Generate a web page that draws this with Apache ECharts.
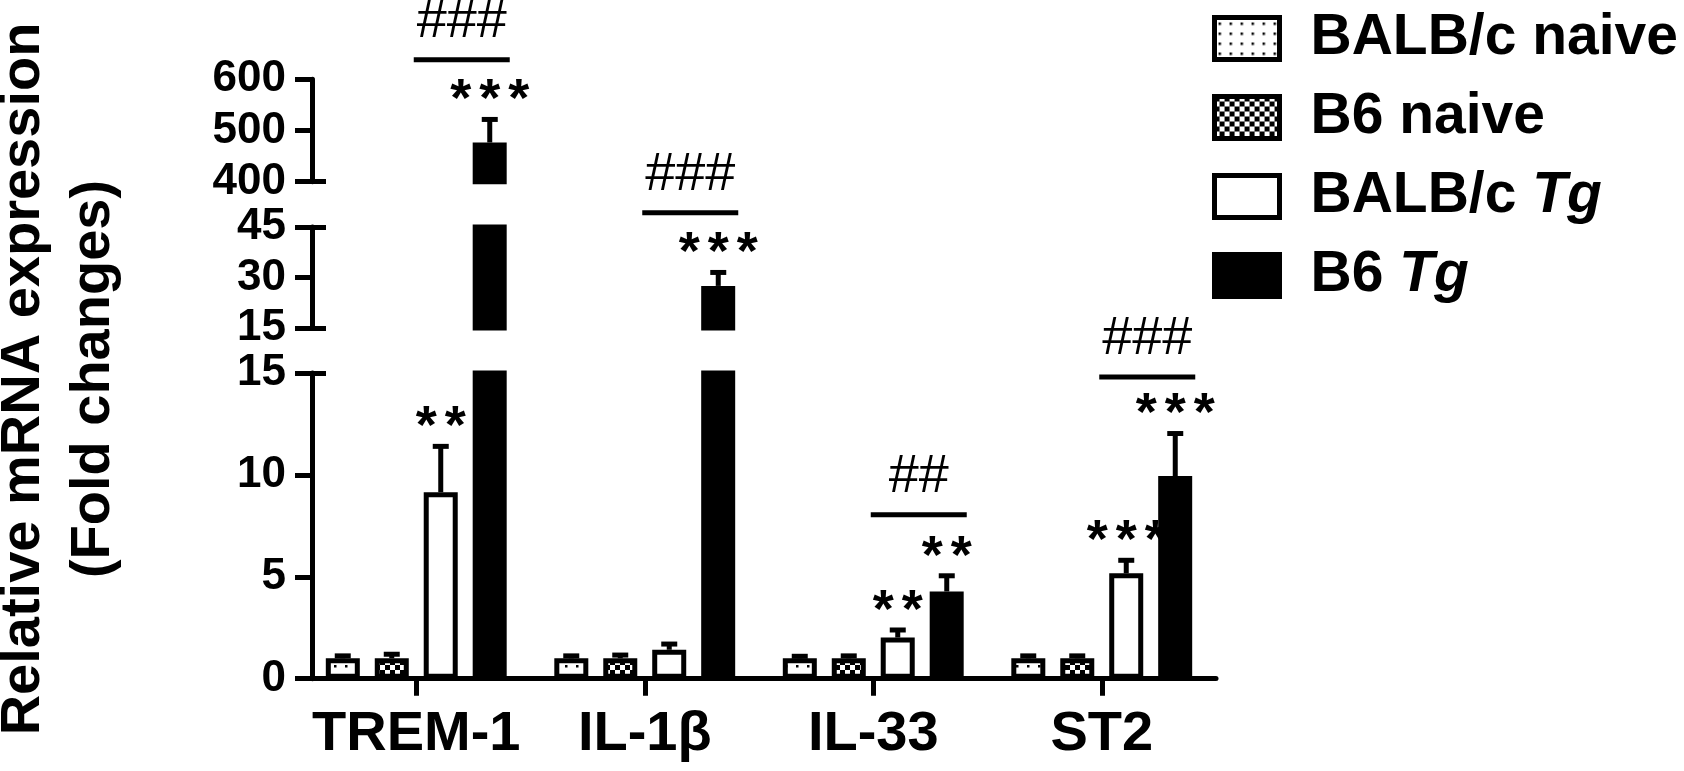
<!DOCTYPE html>
<html>
<head>
<meta charset="utf-8">
<title>Relative mRNA expression</title>
<script src="https://cdn.jsdelivr.net/npm/echarts@6/dist/echarts.min.js"></script>
<style>
  html, body { margin: 0; padding: 0; background: #fff; }
  #main { width: 1684px; height: 771px; }
</style>
</head>
<body>
<div id="main"></div>
<script>
// values
var genes = ['TREM-1', 'IL-1β', 'IL-33', 'ST2'];
var groups = ['BALB/c naive', 'B6 naive', 'BALB/c Tg', 'B6 Tg'];

var balbNaive   = [1.0, 1.0, 1.0, 1.0];
var balbNaiveSd = [0.12, 0.12, 0.1, 0.12];
var b6Naive     = [1.0, 1.0, 1.0, 1.0];
var b6NaiveSd   = [0.2, 0.16, 0.12, 0.12];
var balbTg      = [9.15, 1.42, 2.02, 5.17];
var balbTgSd    = [2.25, 0.28, 0.37, 0.64];
var b6Tg        = [476.6, 27.5, 4.28, 9.94];
var b6TgSd      = [45, 4.0, 0.77, 2.09];

var balbTgStars = ['**', '', '**', '***'];
var b6TgStars   = ['***', '***', '**', '***'];

// ### brackets between BALB/c Tg and B6 Tg (level in axis units)
var hashText  = ['###', '###', '##', '###'];
var hashLevel = [638, 49.2, 8.05, 14.8];

// broken y axis, segments from bottom to top
var segMin  = [0, 15, 400];
var segMax  = [15, 45, 600];
var segStep = [5, 15, 100];

var means = [balbNaive, b6Naive, balbTg, b6Tg];
var sds = [balbNaiveSd, b6NaiveSd, balbTgSd, b6TgSd];
var stars = [['', '', '', ''], ['', '', '', ''], balbTgStars, b6TgStars];

var FONT = '"Liberation Sans", Arial, sans-serif';
var BAR_W = 34;
var BAR_STEP = 49;
var STAR_GAP = 29;

// which segment a value belongs to
function segOf(v) {
	var s = 0;
	for (var i = 0; i < segMin.length; i++) {
		if (v >= segMin[i]) s = i;
	}
	return s;
}

function dotPattern() {
	var c = document.createElement('canvas');
	c.width = 11; c.height = 10;
	var g = c.getContext('2d');
	g.fillStyle = '#fff'; g.fillRect(0, 0, 11, 10);
	g.fillStyle = '#000'; g.fillRect(4, 5, 2.5, 2.5);
	return c;
}
function checkPattern() {
	var c = document.createElement('canvas');
	c.width = 10; c.height = 10;
	var g = c.getContext('2d');
	g.fillStyle = '#fff'; g.fillRect(0, 0, 10, 10);
	g.fillStyle = '#000';
	g.fillRect(0, 0, 5, 5);
	g.fillRect(5, 5, 5, 5);
	return c;
}
var fills = [
	{ image: dotPattern(), repeat: 'repeat' },
	{ image: checkPattern(), repeat: 'repeat' },
	'#fff',
	'#000'
];

// grid pixel layout of each segment
var gridTop = [373, 227, 79.3];
var gridH = [305.7, 101, 102.4];

var grids = [], xAxes = [], yAxes = [], brkAxes = [], series = [];

for (var s = 0; s < segMin.length; s++) {
	grids.push({ left: 302, width: 914, top: gridTop[s], height: gridH[s], outerBoundsMode: 'none' });

	xAxes.push({
		type: 'category', gridIndex: s, data: genes, show: s === 0,
		axisLine: { show: true, onZero: false, lineStyle: { color: '#000', width: 5 } },
		axisTick: { show: true, alignWithLabel: true, length: 17, lineStyle: { color: '#000', width: 5 } },
		axisLabel: { color: '#000', fontFamily: FONT, fontWeight: 'bold', fontSize: 56, margin: 28, interval: 0 },
		splitLine: { show: false }
	});

	yAxes.push({
		type: 'value', gridIndex: s, min: segMin[s], max: segMax[s], interval: segStep[s], offset: -10,
		axisLine: { show: true, lineStyle: { color: '#000', width: 5 } },
		axisTick: { show: true, length: 17, lineStyle: { color: '#000', width: 5 } },
		axisLabel: { color: '#000', fontFamily: FONT, fontWeight: 'bold', fontSize: 44, margin: 26 },
		splitLine: { show: false }
	});

	// short inner ticks marking the axis breaks
	var brk = [];
	if (s > 0) brk.push(segMin[s]);
	if (s < segMin.length - 1) brk.push(segMax[s]);
	brkAxes.push({
		type: 'value', gridIndex: s, min: segMin[s], max: segMax[s], offset: -10, position: 'left',
		axisLine: { show: false }, axisLabel: { show: false }, splitLine: { show: false },
		axisTick: { show: true, inside: true, length: 14, customValues: brk, lineStyle: { color: '#000', width: 5 } }
	});

	for (var g = 0; g < groups.length; g++) {
		series.push({
			type: 'bar', name: groups[g], xAxisIndex: s, yAxisIndex: s,
			barWidth: BAR_W, barGap: '44%', silent: true,
			data: means[g].map(function (v) { return v > segMin[s] ? v : '-'; }),
			itemStyle: { color: fills[g], borderColor: '#000', borderWidth: 5 }
		});
	}

	// error bars and asterisks
	var errData = [], errStars = [];
	for (var g2 = 0; g2 < groups.length; g2++) {
		for (var c = 0; c < genes.length; c++) {
			var m = means[g2][c];
			if (segOf(m) === s) {
				errData.push([c, m, m + sds[g2][c], g2]);
				errStars.push(stars[g2][c]);
			}
		}
	}
	series.push({
		type: 'custom', xAxisIndex: s, yAxisIndex: s, silent: true, z: 5,
		data: errData,
		renderItem: (function (starList) {
			return function (params, api) {
				var base = api.coord([api.value(0), api.value(1)]);
				var tip = api.coord([api.value(0), api.value(2)]);
				var x = base[0] + (api.value(3) - 1.5) * BAR_STEP;
				var kids = [
					{ type: 'line', shape: { x1: x, y1: base[1], x2: x, y2: tip[1] }, style: { stroke: '#000', lineWidth: 5 } },
					{ type: 'line', shape: { x1: x - 8, y1: tip[1], x2: x + 8, y2: tip[1] }, style: { stroke: '#000', lineWidth: 5 } }
				];
				var st = starList[params.dataIndex];
				for (var k = 0; k < st.length; k++) {
					kids.push({
						type: 'text',
						style: {
							text: '*', x: x + (k - (st.length - 1) / 2) * STAR_GAP, y: tip[1] - 18,
							fill: '#000', fontFamily: FONT, fontWeight: 'bold', fontSize: 54,
							align: 'center', verticalAlign: 'middle'
						}
					});
				}
				return { type: 'group', children: kids };
			};
		})(errStars)
	});

	// significance brackets
	var hashData = [], hashLabels = [];
	for (var h = 0; h < hashLevel.length; h++) {
		if (segOf(hashLevel[h]) === s) {
			hashData.push([h, hashLevel[h]]);
			hashLabels.push(hashText[h]);
		}
	}
	if (hashData.length) {
		series.push({
			type: 'custom', xAxisIndex: s, yAxisIndex: s, silent: true, z: 5,
			data: hashData,
			renderItem: (function (labels) {
				return function (params, api) {
					var p = api.coord([api.value(0), api.value(1)]);
					var x1 = p[0] + 0.5 * BAR_STEP - 27;
					var x2 = p[0] + 1.5 * BAR_STEP + 20;
					return {
						type: 'group',
						children: [
							{ type: 'line', shape: { x1: x1, y1: p[1], x2: x2, y2: p[1] }, style: { stroke: '#000', lineWidth: 5 } },
							{
								type: 'text',
								style: {
									text: labels[params.dataIndex], x: (x1 + x2) / 2, y: p[1] - 38,
									fill: '#000', fontFamily: FONT, fontWeight: 'normal', fontSize: 54,
									align: 'center', verticalAlign: 'middle'
								}
							}
						]
					};
				};
			})(hashLabels)
		});
	}
}

var myChart = echarts.init(document.getElementById('main'));

var option = {
	backgroundColor: '#fff',
	animation: false,
	grid: grids,
	xAxis: xAxes,
	yAxis: yAxes.concat(brkAxes),
	legend: {
		orient: 'vertical', left: 1212, top: 10, padding: 0, itemGap: 22,
		itemWidth: 65, itemHeight: 42, icon: 'rect', selectedMode: false,
		data: groups,
		itemStyle: { borderColor: '#000', borderWidth: 5 },
		formatter: function (name) {
			var i = name.indexOf(' Tg');
			return i > 0 ? '{n|' + name.slice(0, i + 1) + '}{i|Tg}' : '{n|' + name + '}';
		},
		textStyle: {
			color: '#000', fontFamily: FONT, fontWeight: 'bold', fontSize: 57, lineHeight: 57,
			padding: [0, 0, 0, 26],
			rich: {
				n: { color: '#000', fontFamily: FONT, fontWeight: 'bold', fontSize: 57, lineHeight: 57 },
				i: { color: '#000', fontFamily: FONT, fontWeight: 'bold', fontStyle: 'italic', fontSize: 57, lineHeight: 57 }
			}
		}
	},
	graphic: [{
		type: 'text', x: 59, y: 379, rotation: Math.PI / 2,
		style: {
			text: 'Relative mRNA expression\n(Fold changes)',
			fill: '#000', fontFamily: FONT, fontWeight: 'bold', fontSize: 56, lineHeight: 70,
			align: 'center', verticalAlign: 'middle'
		}
	}],
	series: series
};

myChart.setOption(option);
</script>
</body>
</html>
